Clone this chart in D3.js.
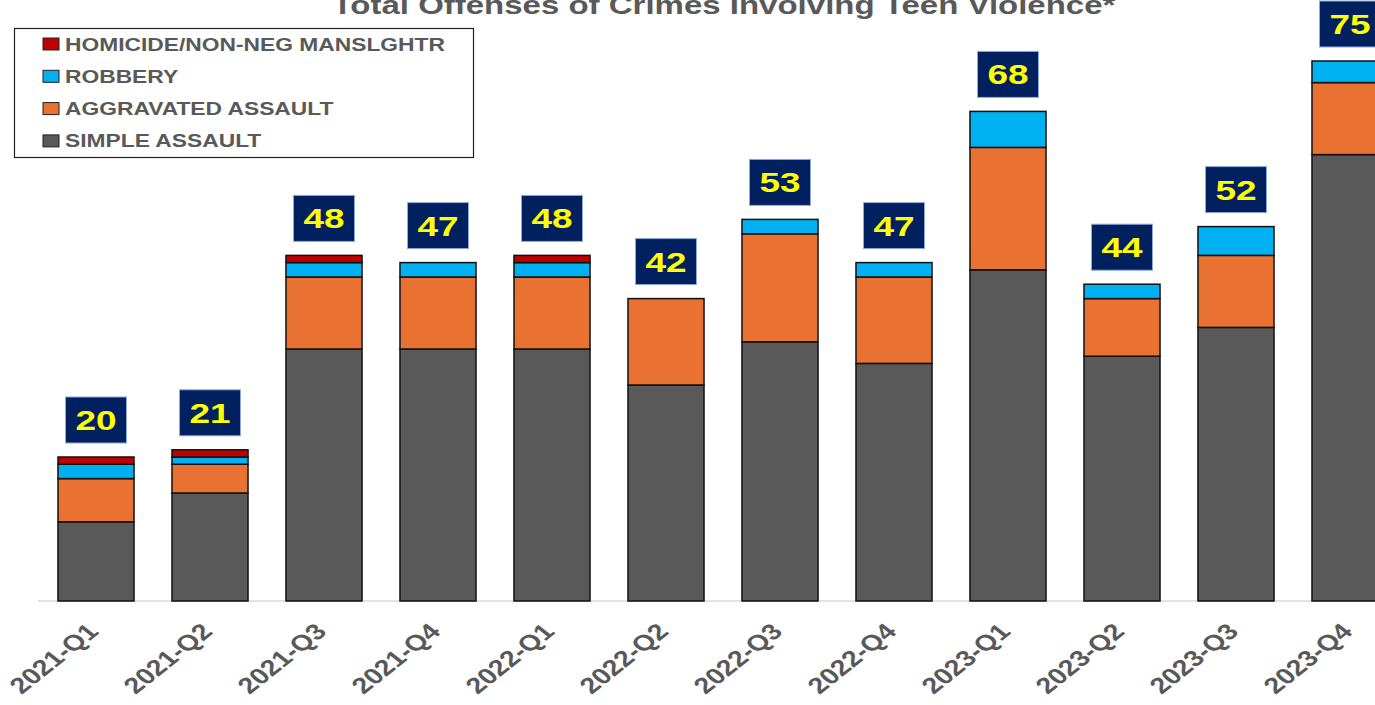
<!DOCTYPE html>
<html>
<head>
<meta charset="utf-8">
<script src="https://cdn.jsdelivr.net/npm/d3@7"></script>
<style>
  body { margin: 0; background: #fff; overflow: hidden; }
  svg { display: block; }
  .title { font-family: "Liberation Sans", Arial, sans-serif; font-weight: bold; fill: #595959; }
  .tick-label { font-family: "Liberation Sans", Arial, sans-serif; font-weight: bold; fill: #595959; font-size: 22.5px; }
  .legend-text { font-family: "Liberation Sans", Arial, sans-serif; font-weight: bold; fill: #595959; font-size: 18px; }
  .total { font-family: "Liberation Sans", Arial, sans-serif; font-weight: bold; fill: #ffff00; font-size: 28px; }
</style>
</head>
<body>
<div id="vis"></div>
<script>
'use strict';

//quarters on the x axis
var quarters = ['2021-Q1', '2021-Q2', '2021-Q3', '2021-Q4', '2022-Q1', '2022-Q2',
    '2022-Q3', '2022-Q4', '2023-Q1', '2023-Q2', '2023-Q3', '2023-Q4'];

//series values, bottom to top of the stack
var simpleAssault = [11, 15, 35, 35, 35, 30, 36, 33, 46, 34, 38, 62];
var aggravatedAssault = [6, 4, 10, 10, 10, 12, 15, 12, 17, 8, 10, 10];
var robbery = [2, 1, 2, 2, 2, 0, 2, 2, 5, 2, 4, 3];
var homicide = [1, 1, 1, 0, 1, 0, 0, 0, 0, 0, 0, 0];

var seriesNames = ['SIMPLE ASSAULT', 'AGGRAVATED ASSAULT', 'ROBBERY', 'HOMICIDE/NON-NEG MANSLGHTR'];
var seriesColors = ['#595959', '#e97132', '#00b0f0', '#c00000'];

var width = 1375, height = 705;
//the original picture is stretched sideways, so the texts are too
var stretch = 1.32;

var svg = d3.select('#vis').append('svg')
    .attr('width', width)
    .attr('height', height);

//build rows for d3.stack
var keys = ['simple', 'aggravated', 'robbery', 'homicide'];
var rows = quarters.map(function (q, i) {
    return {
        quarter: q,
        simple: simpleAssault[i],
        aggravated: aggravatedAssault[i],
        robbery: robbery[i],
        homicide: homicide[i]
    };
});
var stacked = d3.stack().keys(keys)(rows);

var x = d3.scaleBand()
    .domain(quarters)
    .range([39, 39 + 114 * quarters.length])
    .paddingInner(0.333)
    .paddingOuter(0.1665);

var y = d3.scaleLinear()
    .domain([0, 75])
    .range([601, 61]);

//title (top is cut off in the original)
svg.append('text')
    .attr('class', 'title')
    .attr('x', 0)
    .attr('y', 0)
    .attr('text-anchor', 'middle')
    .attr('transform', 'translate(724,14) scale(' + stretch + ',1)')
    .style('font-size', '25px')
    .text('Total Offenses of Crimes Involving Teen Violence*');

//baseline
svg.append('line')
    .attr('x1', 38)
    .attr('x2', width)
    .attr('y1', y(0))
    .attr('y2', y(0))
    .attr('stroke', '#d9d9d9')
    .attr('stroke-width', 1.5);

//stacked bars
svg.append('g').selectAll('g')
    .data(stacked)
    .join('g')
    .attr('fill', function (d, i) { return seriesColors[i]; })
    .selectAll('rect')
    .data(function (d) { return d.filter(function (p) { return p[1] > p[0]; }); })
    .join('rect')
    .attr('x', function (d) { return x(d.data.quarter); })
    .attr('y', function (d) { return y(d[1]); })
    .attr('width', x.bandwidth())
    .attr('height', function (d) { return y(d[0]) - y(d[1]); })
    .attr('stroke', '#111')
    .attr('stroke-width', 1.5);

//total labels in dark boxes
var boxW = 61, boxH = 46;
var totals = svg.append('g').selectAll('g')
    .data(rows)
    .join('g')
    .attr('transform', function (d) {
        var t = d.simple + d.aggravated + d.robbery + d.homicide;
        var cx = x(d.quarter) + x.bandwidth() / 2;
        return 'translate(' + cx + ',' + (y(t) - 14 - boxH) + ')';
    });
totals.append('rect')
    .attr('x', -boxW / 2)
    .attr('y', 0)
    .attr('width', boxW)
    .attr('height', boxH)
    .attr('fill', '#002060')
    .attr('stroke', '#8ea9db')
    .attr('stroke-width', 1);
totals.append('text')
    .attr('class', 'total')
    .attr('x', 0)
    .attr('y', 0)
    .attr('text-anchor', 'middle')
    .attr('transform', 'translate(0,' + (boxH / 2 + 10) + ') scale(' + stretch + ',1)')
    .text(function (d) { return d.simple + d.aggravated + d.robbery + d.homicide; });

//x axis tick labels, rotated
var xAxis = d3.axisBottom(x).tickSize(0).tickPadding(0);
var axisG = svg.append('g')
    .attr('transform', 'translate(0,' + y(0) + ')')
    .call(xAxis);
axisG.select('.domain').remove();
axisG.selectAll('.tick text')
    .attr('class', 'tick-label')
    .attr('text-anchor', 'end')
    .attr('dy', null)
    .attr('y', 0)
    .attr('transform', 'translate(4,32) scale(1.27,1) rotate(-45)');

//legend
var legend = svg.append('g');
legend.append('rect')
    .attr('x', 14.5)
    .attr('y', 28.5)
    .attr('width', 459)
    .attr('height', 129)
    .attr('fill', '#fff')
    .attr('stroke', '#222')
    .attr('stroke-width', 1.2);
var legendOrder = [3, 2, 1, 0];
var items = legend.selectAll('g')
    .data(legendOrder)
    .join('g')
    .attr('transform', function (d, i) { return 'translate(43,' + (44 + i * 32.3) + ')'; });
items.append('rect')
    .attr('x', 0)
    .attr('y', -6)
    .attr('width', 16)
    .attr('height', 12)
    .attr('fill', function (d) { return seriesColors[d]; })
    .attr('stroke', '#222')
    .attr('stroke-width', 1);
items.append('text')
    .attr('class', 'legend-text')
    .attr('x', 0)
    .attr('y', 0)
    .attr('transform', 'translate(22,6.5) scale(' + (stretch * 0.96) + ',1)')
    .text(function (d) { return seriesNames[d]; });
</script>
</body>
</html>
